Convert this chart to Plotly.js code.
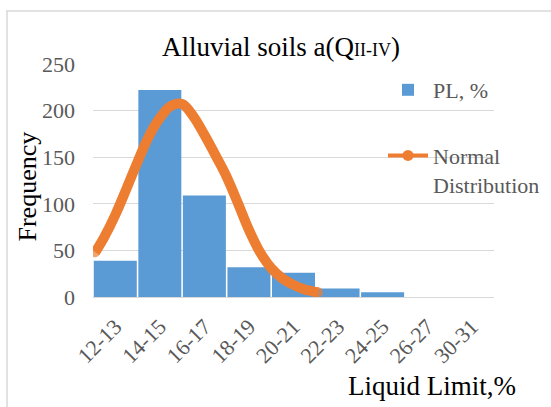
<!DOCTYPE html>
<html>
<head>
<meta charset="utf-8">
<script src="https://cdn.plot.ly/plotly-3.0.1.min.js"></script>
<style>html,body{margin:0;padding:0;background:#fff;}#chart{width:551px;height:407px;}</style>
</head>
<body>
<div id="chart"></div>
<script>
// Histogram categories (Liquid Limit, %) and frequencies
const categories = ['12-13','14-15','16-17','18-19','20-21','22-23','24-25','26-27','30-31'];
const frequency  = [39, 222, 109, 32, 26, 9, 5, 0, 0];

// Normal distribution curve (liquid limit value, frequency)
const normLL   = [11.6, 12.0, 12.5, 13.0, 13.5, 14.0, 14.5, 15.0, 15.5, 16.0, 16.5, 17.0, 17.5, 18.0, 18.5, 19.0, 19.5, 20.0, 20.5, 21.0, 21.6];
const normFreq = [48, 64, 88, 116, 145, 172, 192, 205, 207, 194, 174, 152, 129, 101, 72, 48, 31, 20, 13, 8, 5];

const serif = 'Liberation Serif, Times New Roman, serif';
const blue = '#5B9BD5', orange = '#ED7D31', grey = '#595959', grid = '#D9D9D9';

const endSizes = normFreq.map((_, i) => (i === 0 || i === normFreq.length - 1) ? 10 : 0);

const traces = [
  {
    type: 'bar', x: categories, y: frequency, name: 'PL, %',
    marker: {color: blue}, legendgroup: 'a', xaxis: 'x', yaxis: 'y'
  },
  {
    type: 'scatter', mode: 'lines+markers', x: normLL, y: normFreq,
    xaxis: 'x2', yaxis: 'y', showlegend: false,
    line: {color: orange, width: 10, shape: 'spline', smoothing: 1},
    marker: {color: orange, size: endSizes, line: {width: 0}}
  },
  {
    type: 'scatter', mode: 'lines+markers', x: [null], y: [null],
    xaxis: 'x2', yaxis: 'y', name: 'Normal<br>Distribution', legendgroup: 'b',
    line: {color: orange, width: 4}, marker: {color: orange, size: 11}
  }
];

const layout = {
  width: 551, height: 407,
  margin: {l: 93, r: 57, t: 64, b: 110, pad: 0, autoexpand: false},
  paper_bgcolor: '#fff', plot_bgcolor: '#fff',
  bargap: 0.035,
  title: {
    text: 'Alluvial soils a(Q<span style="font-size:18px">II-IV</span>)',
    font: {family: serif, size: 27, color: '#000'},
    xref: 'container', yref: 'container', x: 0.51, xanchor: 'center', y: 1 - 47/407, yanchor: 'middle'
  },
  xaxis: {
    type: 'category', range: [-0.5, 8.5], showgrid: false, zeroline: false,
    showline: true, linecolor: grid, linewidth: 1,
    tickangle: -45, ticks: '', ticklabelstandoff: 7,
    tickfont: {family: serif, size: 22, color: grey}
  },
  xaxis2: {
    overlaying: 'x', range: [11.5, 29.5], visible: false
  },
  yaxis: {
    range: [0, 250], dtick: 50, showgrid: true, gridcolor: grid, gridwidth: 1,
    zeroline: false, showline: false, ticks: '', ticklabelstandoff: 17,
    tickfont: {family: serif, size: 22, color: grey}
  },
  legend: {
    xref: 'container', yref: 'container', x: 383/551, y: 1 - 69/407,
    xanchor: 'left', yanchor: 'top', bgcolor: 'rgba(0,0,0,0)',
    font: {family: serif, size: 22, color: grey},
    traceorder: 'grouped', tracegroupgap: 34, valign: 'top', itemwidth: 40
  },
  annotations: [
    {text: 'Frequency', xref: 'paper', yref: 'paper', x: (27 - 93)/401, y: (296.5 - 186)/233,
     textangle: -90, showarrow: false, xanchor: 'center', yanchor: 'middle',
     font: {family: serif, size: 26, color: '#000'}},
    {text: 'Liquid Limit,%', xref: 'paper', yref: 'paper', x: (432 - 93)/401, y: (296.5 - 385)/233,
     showarrow: false, xanchor: 'center', yanchor: 'middle',
     font: {family: serif, size: 27, color: '#000'}}
  ],
  shapes: [
    {type: 'rect', xref: 'paper', yref: 'paper', layer: 'below',
     x0: (7 - 93)/401, x1: 1.5, y0: -1, y1: (296.5 - 10.5)/233,
     line: {color: grid, width: 1.5}, fillcolor: 'rgba(0,0,0,0)'}
  ],
  showlegend: true
};

Plotly.newPlot('chart', traces, layout, {displayModeBar: false, staticPlot: true});
</script>
</body>
</html>
